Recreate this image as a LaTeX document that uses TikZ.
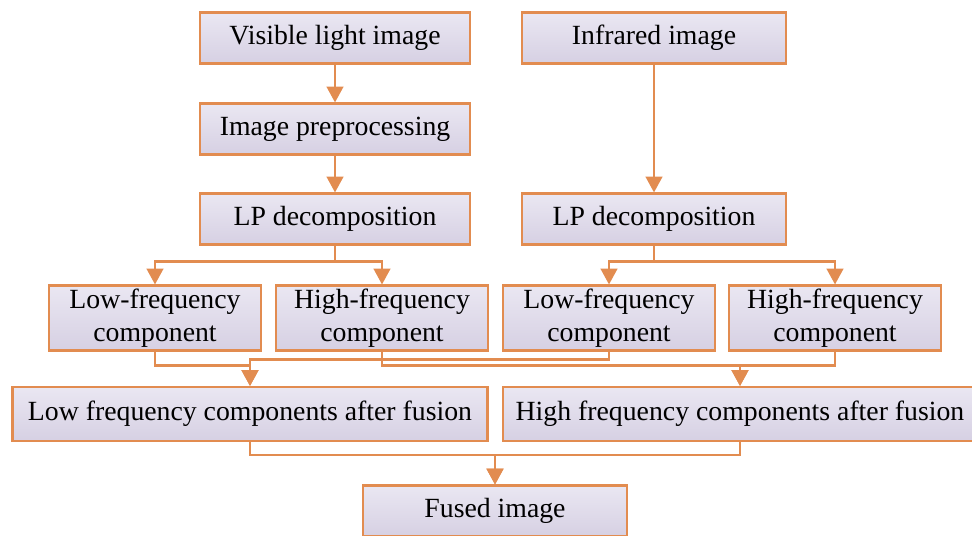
\documentclass[tikz,border=0pt]{standalone}
\usepackage{fontspec}
\setmainfont{Liberation Serif}
\usepackage{tikz}
\usetikzlibrary{arrows.meta}
\definecolor{boxline}{RGB}{226,140,80}
\definecolor{boxtop}{RGB}{234,231,242}
\definecolor{boxbot}{RGB}{214,208,227}
\begin{document}
\begin{tikzpicture}
  [x=0.02cm,y=-0.02cm,
   every node/.style={draw=boxline,line width=1.2pt,top color=boxtop,bottom color=boxbot,
                      font=\fontsize{15.8}{19}\selectfont,align=center,inner sep=0pt},
   wide/.style={minimum width=5.4cm,minimum height=1.02cm},
   comp/.style={minimum width=4.24cm,minimum height=1.3cm},
   fusion/.style={minimum width=9.5cm,minimum height=1.08cm},
   arr/.style={draw=boxline,line width=1.2pt,-{Triangle[width=9.5pt,length=9pt]}}]
  \useasboundingbox (0,0) rectangle (972,536);
  \node[wide] (vis) at (335,38) {Visible light image};
  \node[wide,minimum width=5.28cm] (inf) at (654,38) {Infrared image};
  \node[wide] (pre) at (335,129) {Image preprocessing};
  \node[wide] (lpl) at (335,219) {LP decomposition};
  \node[wide,minimum width=5.28cm] (lpr) at (654,219) {LP decomposition};
  \node[comp] (lowl) at (155,318) {Low-frequency\\component};
  \node[comp] (highl) at (382,318) {High-frequency\\component};
  \node[comp] (lowr) at (609,318) {Low-frequency\\component};
  \node[comp] (highr) at (835,318) {High-frequency\\component};
  \node[fusion] (lowf) at (250,414) {Low frequency components after fusion};
  \node[fusion] (highf) at (740,414) {High frequency components after fusion};
  \node[wide,minimum width=5.28cm] (fused) at (495,511) {Fused image};
  % straight arrows
  \foreach \from/\to in {vis/pre,pre/lpl,inf/lpr}
    \draw[arr] (\from) -- (\to);
  % elbow arrows
  \foreach \from/\drop/\to in {lpl/16/lowl,lpl/16/highl,lpr/16/lowr,lpr/16/highr,
                               lowl/14/lowf,lowr/8/lowf,highl/14/highf,highr/14/highf,
                               lowf/13/fused,highf/13/fused}
    \draw[arr] (\from.south) -- ++(0,\drop) -| (\to.north);
\end{tikzpicture}
\end{document}
